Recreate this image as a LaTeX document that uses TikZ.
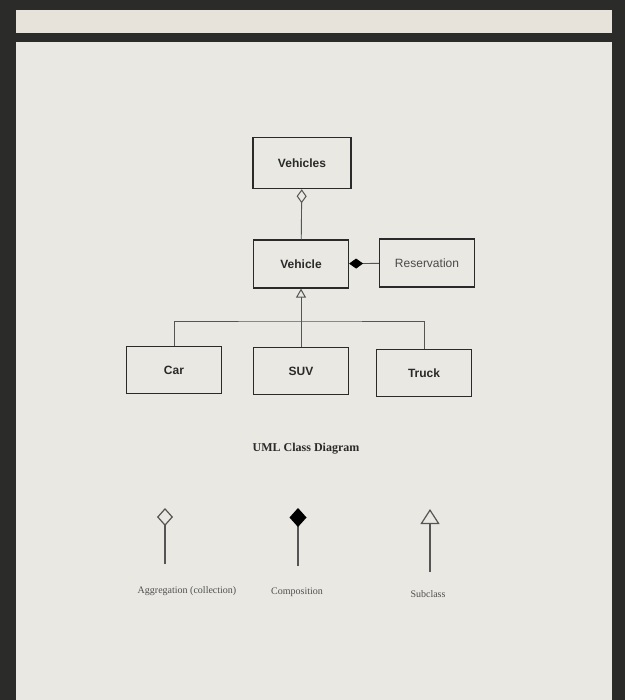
\documentclass[tikz,border=0pt]{standalone}
\usepackage{fontspec}
\setmainfont{Liberation Serif}
\setsansfont{Liberation Sans}
\usetikzlibrary{positioning,arrows.meta}

\definecolor{screen}{HTML}{2B2B2A}
\definecolor{sheet}{HTML}{E9E8E3}
\definecolor{ink}{HTML}{2A2A2A}
\definecolor{wire}{HTML}{555555}
\definecolor{legendtext}{HTML}{4F4F4F}

\begin{document}
\begin{tikzpicture}[
    x=1pt, y=-1pt,
    cls/.style={draw=ink, line width=1.2pt, rectangle, minimum width=95pt, minimum height=48pt,
                font=\sffamily\bfseries\fontsize{12}{14}\selectfont, text=ink},
    wireline/.style={draw=wire, line width=0.9pt},
    aggr/.style={wireline, -{Diamond[open, length=14pt, width=10pt, line width=1pt]}},
    comp/.style={wireline, -{Diamond[length=14pt, width=10pt, color=black]}},
    inh/.style={wireline, -{Triangle[open, length=9pt, width=10pt, line width=1pt]}},
    keyline/.style={draw=wire, line width=1.2pt},
    keylabel/.style={font=\fontsize{10}{12}\selectfont, text=legendtext}
]
  % screen and sheet
  \fill[screen] (0,0) rectangle (625,700);
  \fill[sheet!95!brown] (16,10) rectangle (612,33);
  \fill[sheet] (16,42) rectangle (612,700);
  \useasboundingbox (0,0) rectangle (625,700);

  % First row
  \node[cls, line width=1.5pt, minimum width=98pt, minimum height=51pt] (vehicles) at (302,163) {Vehicles};

  % Second row
  \node[cls] (vehicle) at (301,264) {Vehicle};
  \node[cls, font=\sffamily\fontsize{12}{14}\selectfont, text=ink!85] (reservation) at (427,263) {Reservation};

  % Third row
  \node[cls, minimum height=47pt] (car)   at (174,370) {Car};
  \node[cls, minimum height=47pt] (suv)   at (301,371) {SUV};
  \node[cls, minimum height=47pt] (truck) at (424,373) {Truck};

  \coordinate (bar) at (301,321);

  % Arrows
  \draw[aggr] (vehicle) -- (vehicles);
  \draw[comp] (reservation) -- (vehicle);
  \draw[inh] (suv) -- (vehicle);
  \draw[wireline] (car.north) |- (bar) -| (truck.north);

  % Title
  \node[font=\bfseries\fontsize{12}{14}\selectfont, text=ink] (title) at (306,449) {UML Class Diagram};

  % Legend
  \coordinate (aggtop) at (165,508);
  \coordinate (aggbot) at (165,564);
  \coordinate (comptop) at (298,508);
  \coordinate (compbot) at (298,566);
  \coordinate (subtop) at (430,509);
  \coordinate (subbot) at (430,572);
  \draw[keyline, -{Diamond[open, length=18pt, width=16pt, line width=1.2pt]}] (aggbot) -- (aggtop);
  \draw[keyline, -{Diamond[length=19pt, width=17pt, color=black]}] (compbot) -- (comptop);
  \draw[keyline, -{Triangle[open, length=15pt, width=19pt, line width=1.2pt]}] (subbot) -- (subtop);
  \node[keylabel] (agglabel)  at (187,591) {Aggregation (collection)};
  \node[keylabel] (complabel) at (297,592) {Composition};
  \node[keylabel] (sublabel)  at (428,594) {Subclass};
\end{tikzpicture}
\end{document}
